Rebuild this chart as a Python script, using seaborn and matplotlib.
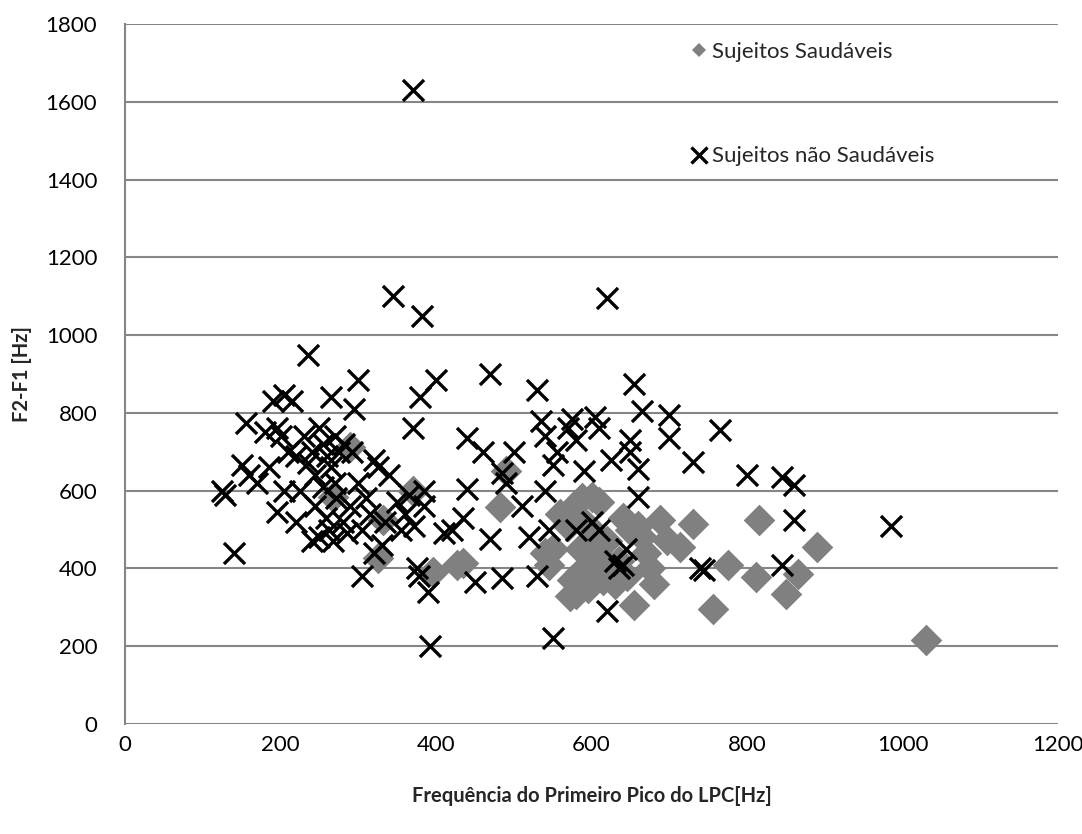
import matplotlib
matplotlib.use("Agg")
import matplotlib.pyplot as plt
import seaborn as sns
import pandas as pd
from matplotlib.lines import Line2D

# Healthy subjects (grey diamonds)
healthy_x = [1030, 890, 865, 850, 815, 812, 775, 756, 731, 714, 697, 688, 680, 675,
             670, 665, 660, 655, 650, 646, 640, 635, 625, 615, 610, 605, 600, 600,
             595, 590, 588, 585, 580, 578, 575, 572, 570, 560, 550, 545, 540, 490,
             482, 435, 427, 396, 370, 332, 325, 289, 268, 620, 630, 605, 585]
healthy_y = [215, 455, 385, 335, 525, 378, 408, 295, 515, 455, 473, 525, 360, 400,
             440, 480, 510, 305, 500, 380, 530, 420, 400, 370, 570, 490, 585, 430,
             350, 520, 580, 450, 335, 560, 370, 330, 510, 540, 450, 410, 440, 650,
             558, 414, 409, 391, 600, 525, 427, 712, 584, 470, 360, 400, 390]

# Unhealthy subjects (black crosses)
sick_x = [125, 128, 140, 150, 155, 160, 170, 180, 185, 190, 195, 195, 200, 205, 205,
          210, 215, 220, 220, 225, 230, 235, 235, 240, 240, 245, 245, 250, 250, 255,
          255, 258, 260, 262, 265, 265, 268, 270, 270, 272, 275, 280, 282, 285, 290,
          292, 295, 300, 300, 305, 305, 310, 315, 320, 320, 325, 330, 335, 340, 345,
          350, 355, 360, 365, 370, 370, 372, 375, 378, 380, 382, 385, 385, 390, 392,
          400, 410, 420, 435, 440, 440, 450, 460, 470, 470, 485, 485, 490, 500, 510,
          520, 530, 530, 535, 540, 540, 545, 550, 550, 555, 570, 575, 580, 580, 590,
          600, 605, 610, 610, 620, 620, 625, 630, 635, 640, 645, 650, 650, 655, 660,
          660, 665, 700, 700, 730, 740, 745, 765, 800, 845, 845, 860, 860, 985]
sick_y = [600, 590, 440, 665, 775, 640, 620, 750, 660, 830, 545, 760, 740, 845, 600,
          700, 830, 520, 690, 600, 740, 950, 670, 470, 700, 640, 560, 760, 480, 720,
          610, 530, 690, 500, 840, 660, 470, 740, 620, 580, 700, 520, 720, 490, 560,
          700, 810, 885, 620, 380, 500, 580, 540, 680, 440, 660, 460, 520, 640, 1100,
          570, 500, 540, 590, 1630, 760, 510, 400, 380, 840, 1050, 600, 560, 340, 200,
          885, 490, 500, 530, 735, 605, 365, 700, 900, 475, 645, 375, 620, 700, 560,
          480, 860, 380, 780, 740, 600, 500, 665, 220, 700, 760, 785, 730, 500, 650,
          520, 790, 760, 500, 1095, 290, 680, 420, 400, 410, 450, 730, 700, 875, 655,
          585, 805, 795, 735, 675, 400, 395, 755, 640, 635, 410, 615, 525, 510]

labels = ["Sujeitos Saudáveis", "Sujeitos não Saudáveis"]

df = pd.concat([
    pd.DataFrame({"x": healthy_x, "y": healthy_y, "grupo": labels[0]}),
    pd.DataFrame({"x": sick_x, "y": sick_y, "grupo": labels[1]}),
])

sns.set_theme(style="white")
plt.rcParams['font.family'] = ['Lato', 'DejaVu Sans']

fig = plt.figure(figsize=(10.82, 8.34), dpi=100)
ax = fig.add_axes([125/1082, 1-724/834, (1058-125)/1082, 700/834])

sns.scatterplot(data=df[df.grupo == labels[0]], x="x", y="y", marker="D",
                color="#808080", s=260, linewidth=0, ax=ax, legend=False, zorder=2)
sns.scatterplot(data=df[df.grupo == labels[1]], x="x", y="y", marker="x",
                color="black", s=230, linewidth=2.4, ax=ax, legend=False, zorder=3)

ax.set_xlim(0, 1200)
ax.set_ylim(0, 1800)
ax.set_xticks(range(0, 1201, 200))
ax.set_yticks(range(0, 1801, 200))
ax.yaxis.grid(True, color="#868686", linewidth=1.5)
ax.set_axisbelow(True)
for s in ["top", "right", "bottom"]:
    ax.spines[s].set_visible(False)
ax.spines["left"].set_color("#868686")
ax.spines["left"].set_linewidth(1.5)
ax.tick_params(axis="both", labelsize=16, length=0, colors="black")
ax.tick_params(axis="y", pad=20)
ax.tick_params(axis="x", pad=8)

ax.set_xlabel("Frequência do Primeiro Pico do LPC[Hz]", fontsize=14.5, fontweight="bold",
              labelpad=22)
ax.set_ylabel("F2-F1 [Hz]", fontsize=14.5, fontweight="bold", labelpad=10)

handles = [
    Line2D([], [], marker="D", color="#808080", linestyle="none", markersize=7,
           markeredgewidth=0),
    Line2D([], [], marker="x", color="black", linestyle="none", markersize=12,
           markeredgewidth=2.4),
]
leg = ax.legend(handles, labels, loc="upper left", bbox_to_anchor=(0.585, 1.003),
                frameon=False, fontsize=16, labelspacing=3.8, handlelength=0.7,
                handletextpad=0.25)

fig.savefig("out.png", dpi=100)
